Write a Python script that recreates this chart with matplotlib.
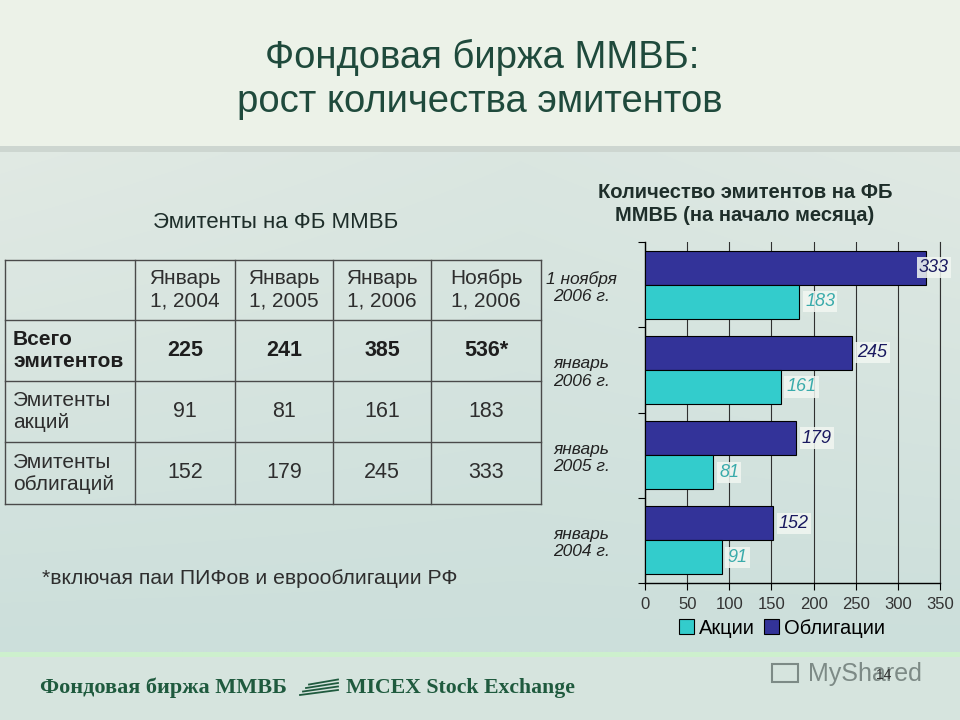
import numpy as np
import matplotlib
matplotlib.use('Agg')
import matplotlib.pyplot as plt
from matplotlib import font_manager as fm
from matplotlib.patches import Rectangle

names = {f.name for f in fm.fontManager.ttflist}
SANS = 'Liberation Sans'
NARROW = 'Liberation Sans Narrow' if 'Liberation Sans Narrow' in names else SANS
SERIF = 'Liberation Serif'

# ---------------- data ----------------
slide_title = ['Фондовая биржа ММВБ:', 'рост количества эмитентов']
table_title = 'Эмитенты на ФБ ММВБ'
table_cols = ['Январь\n1, 2004', 'Январь\n1, 2005', 'Январь\n1, 2006', 'Ноябрь\n1, 2006']
table_rows = ['Всего\nэмитентов', 'Эмитенты\nакций', 'Эмитенты\nоблигаций']
total_issuers = ['225', '241', '385', '536*']
share_issuers = [91, 81, 161, 183]
bond_issuers = [152, 179, 245, 333]
footnote = '*включая паи ПИФов и еврооблигации РФ'
chart_title = 'Количество эмитентов на ФБ\nММВБ (на начало месяца)'
chart_cats = ['январь\n2004 г.', 'январь\n2005 г.', 'январь\n2006 г.', '1 ноября\n2006 г.']
series_names = ['Акции', 'Облигации']
x_ticks = [0, 50, 100, 150, 200, 250, 300, 350]
footer_left = 'Фондовая биржа ММВБ'
footer_right = 'MICEX Stock Exchange'

C_SHARE = '#33CCCC'
C_BOND = '#333399'
C_TITLE = '#1f4a3c'
C_TEXT = '#2e2e2e'

fig = plt.figure(figsize=(9.6, 7.2), dpi=100)

# ---------------- background ----------------
bg = fig.add_axes([0, 0, 1, 1])
bg.set_xlim(0, 960)
bg.set_ylim(720, 0)
bg.axis('off')
H, W = 720, 960
yy, xx = np.mgrid[0:H, 0:W]
img = np.zeros((H, W, 3))
top = np.array([236, 242, 232]) / 255
body_a = np.array([226, 234, 228]) / 255
body_b = np.array([204, 223, 219]) / 255
foot = np.array([214, 228, 222]) / 255
t = np.clip((yy - 150) / 500, 0, 1)[..., None]
s = np.clip(1 - np.abs(xx - 520) / 600, 0, 1)[..., None]
body = body_a * (1 - t) + body_b * t
body = body * (1 - 0.35 * s) + body_b * 0.35 * s
img[:] = body
img[yy < 148] = top
img[(yy >= 146) & (yy < 152)] = np.array([205, 214, 208]) / 255
img[yy >= 656] = foot
img[(yy >= 652) & (yy < 657)] = np.array([205, 240, 205]) / 255
bg.imshow(img, extent=[0, 960, 720, 0], aspect='auto', zorder=0)

# ---------------- slide title ----------------
bg.text(482, 57, slide_title[0], ha='center', va='center', fontsize=27.5,
        family=[NARROW, 'DejaVu Sans'], color=C_TITLE)
bg.text(480, 102, slide_title[1], ha='center', va='center', fontsize=27.5,
        family=[NARROW, 'DejaVu Sans'], color=C_TITLE)

# ---------------- table ----------------
bg.text(276, 222, table_title, ha='center', va='center', fontsize=16,
        family=SANS, color='#1e2e2a')
col_x = [5, 135, 235, 333, 431, 541]
row_y = [260, 320, 381, 442, 504]
for x in col_x:
    bg.plot([x, x], [row_y[0], row_y[-1]], color='#4a4a4a', lw=1, zorder=2)
for y in row_y:
    bg.plot([col_x[0], col_x[-1]], [y, y], color='#4a4a4a', lw=1, zorder=2)
for j, lab in enumerate(table_cols):
    cx = (col_x[j + 1] + col_x[j + 2]) / 2
    bg.text(cx, (row_y[0] + row_y[1]) / 2, lab, ha='center', va='center',
            fontsize=15, family=SANS, color=C_TEXT, linespacing=1.2)
row_vals = [total_issuers, [str(v) for v in share_issuers], [str(v) for v in bond_issuers]]
for i, lab in enumerate(table_rows):
    cy = (row_y[i + 1] + row_y[i + 2]) / 2
    bold = (i == 0)
    bg.text(13, cy, lab, ha='left', va='center', fontsize=15, family=SANS,
            color='#1e1e1e' if bold else C_TEXT, fontweight='bold' if bold else 'normal',
            linespacing=1.2)
    for j, v in enumerate(row_vals[i]):
        cx = (col_x[j + 1] + col_x[j + 2]) / 2
        bg.text(cx, cy, v, ha='center', va='center', fontsize=15.5, family=SANS,
                color='#1e1e1e' if bold else C_TEXT,
                fontweight='bold' if bold else 'normal')

bg.text(42, 578, footnote, ha='left', va='center', fontsize=15.2, family=SANS, color=C_TEXT)

# ---------------- chart ----------------
bg.text(745, 204, chart_title, ha='center', va='center', fontsize=14.5,
        family=SANS, fontweight='bold', color='#1e2e2a', linespacing=1.25)

ax = fig.add_axes([645 / 960, 1 - 583 / 720, 295 / 960, (583 - 242) / 720])
ax.patch.set_alpha(0)
yp = np.arange(len(chart_cats))
h = 0.4
ax.barh(yp + h / 2, bond_issuers, h, color=C_BOND, edgecolor='black', lw=0.8, zorder=3)
ax.barh(yp - h / 2, share_issuers, h, color=C_SHARE, edgecolor='black', lw=0.8, zorder=3)
ax.set_xlim(0, 350)
ax.set_ylim(-0.5, len(chart_cats) - 0.5)
ax.set_xticks(x_ticks)
ax.xaxis.grid(True, color='#303030', lw=0.8, zorder=0)
ax.set_axisbelow(True)
ax.spines['top'].set_visible(False)
ax.spines['right'].set_color('#303030')
ax.spines['right'].set_linewidth(0.8)
ax.spines['left'].set_linewidth(1)
ax.spines['bottom'].set_linewidth(1)
ax.tick_params(axis='x', direction='out', length=5, width=0.8, labelsize=12,
               labelcolor='#333333', pad=5)
for lab in ax.get_xticklabels():
    lab.set_family(SANS)
ax.set_yticks(yp)
ax.set_yticklabels(chart_cats)
ax.set_yticks(np.arange(-0.5, len(chart_cats), 1.0), minor=True)
ax.tick_params(axis='y', which='major', length=0, pad=46)
ax.tick_params(axis='y', which='minor', length=5, width=0.8, direction='out')
for lab in ax.get_yticklabels():
    lab.set_ha('center')
    lab.set_multialignment('center')
    lab.set_fontstyle('italic')
    lab.set_fontsize(12.5)
    lab.set_family(SANS)
    lab.set_color('#222222')

xmax_allowed = 363
lab_w = 38
for vals, off, col in [(bond_issuers, h / 2, '#1a1a60'), (share_issuers, -h / 2, '#3aabab')]:
    for yi, v in zip(yp, vals):
        pos = v + 7
        if pos + lab_w > xmax_allowed:
            pos = xmax_allowed - lab_w
        ax.text(pos, yi + off, str(v), ha='left', va='center', fontsize=13,
                fontstyle='italic', family=SANS, color=col, zorder=5, clip_on=False,
                bbox=dict(boxstyle='square,pad=0.12', fc='#f2f7f2', ec='none', alpha=0.85))

handles = [Rectangle((0, 0), 1, 1, fc=C_SHARE, ec='black', lw=0.8),
           Rectangle((0, 0), 1, 1, fc=C_BOND, ec='black', lw=0.8)]
fig.legend(handles, series_names, loc='center', bbox_to_anchor=(782 / 960, 1 - 628 / 720),
           ncol=2, frameon=False, prop={'family': SANS, 'size': 14.5},
           handlelength=0.75, handleheight=0.75, handletextpad=0.25, columnspacing=0.45)

# ---------------- footer ----------------
bg.text(40, 688, footer_left, ha='left', va='center', fontsize=16, family=SERIF,
        fontweight='bold', color='#1f5a3e')
bg.text(346, 688, footer_right, ha='left', va='center', fontsize=15.7, family=SERIF,
        fontweight='bold', color='#1f5a3e')
for k in range(4):
    bg.plot([300 + k * 3, 338], [695 - k * 3.5, 695 - k * 3.5 - 5], color='#1f5a3e', lw=1.3)
bg.text(808, 674, 'MyShared', ha='left', va='center', fontsize=18, family=SANS,
        color='#7d8a86')
bg.add_patch(Rectangle((772, 664), 26, 18, fc='none', ec='#7d8a86', lw=1.5))
bg.text(884, 675, '14', ha='center', va='center', fontsize=10, family=SANS, color='#333333')

fig.savefig('out.png', dpi=100)
